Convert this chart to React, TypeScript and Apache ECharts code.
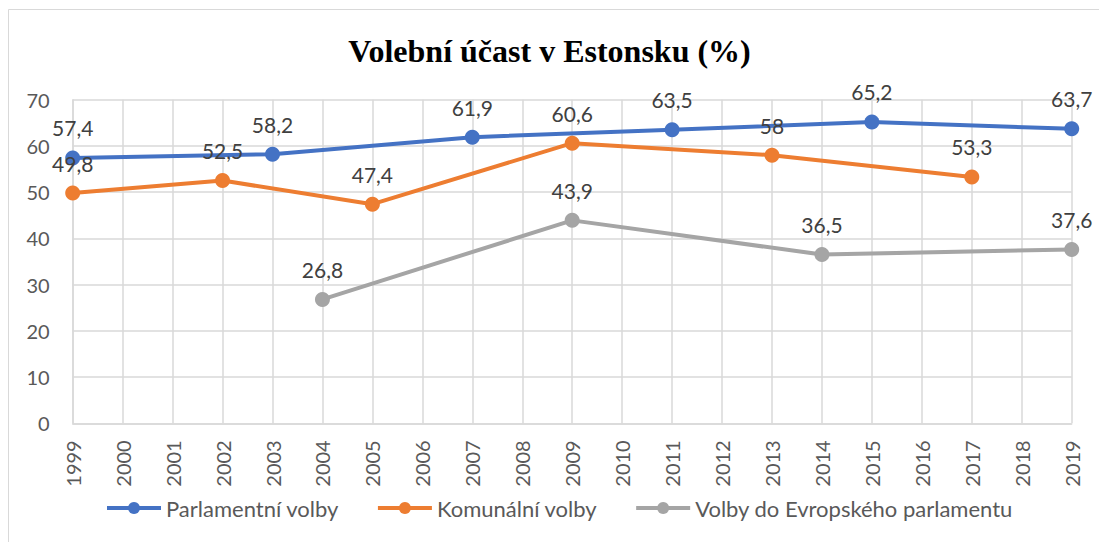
import React, { useEffect, useRef } from "react";
import * as echarts from "echarts";

const years = ["1999","2000","2001","2002","2003","2004","2005","2006","2007","2008","2009","2010","2011","2012","2013","2014","2015","2016","2017","2018","2019"];
const parlament: (number | null)[] = [57.4,null,null,null,58.2,null,null,null,61.9,null,null,null,63.5,null,null,null,65.2,null,null,null,63.7];
const komunalni: (number | null)[] = [49.8,null,null,52.5,null,null,47.4,null,null,null,60.6,null,null,null,58,null,null,null,53.3,null,null];
const evropsky: (number | null)[] = [null,null,null,null,null,26.8,null,null,null,null,43.9,null,null,null,null,36.5,null,null,null,null,37.6];
const seriesNames = ["Parlamentní volby", "Komunální volby", "Volby do Evropského parlamentu"];
const colors = ["#4472C4", "#ED7D31", "#A5A5A5"];
const titleText = "Volební účast v Estonsku (%)";

export default function App() {
  const ref = useRef<HTMLDivElement>(null);
  useEffect(() => {
    if (!ref.current) return;
    const chart = echarts.init(ref.current, undefined, { renderer: "svg" });
    const mk = (name: string, data: (number | null)[], color: string) => ({
      name,
      type: "line",
      data,
      connectNulls: true,
      symbol: "circle",
      symbolSize: 15,
      itemStyle: { color },
      lineStyle: { color, width: 4 },
      label: {
        show: true,
        position: "top",
        distance: 12,
        fontFamily: "Lato",
        fontSize: 21,
        color: "#404040",
        formatter: (p: any) => String(p.value).replace(".", ","),
      },
    });
    chart.setOption({
      animation: false,
      backgroundColor: "#ffffff",
      title: {
        text: titleText,
        left: "center",
        top: 30,
        textStyle: { fontFamily: "Liberation Serif", fontWeight: "bold", fontSize: 32, color: "#000000" },
      },
      graphic: [
        {
          type: "rect",
          shape: { x: 8.5, y: 9.5, width: 1200, height: 700 },
          style: { fill: "none", stroke: "#d9d9d9", lineWidth: 1 },
          silent: true,
        },
      ],
      legend: {
        left: 100,
        top: 492,
        itemWidth: 54,
        itemHeight: 15,
        itemGap: 37,
        textStyle: { fontFamily: "Lato", fontSize: 22, color: "#595959" },
        data: seriesNames.map((n, i) => ({ name: n, itemStyle: { color: colors[i] }, lineStyle: { width: 4, color: colors[i] } })),
      },
      grid: { left: 72.7, right: 27.3, top: 99.7, bottom: 118.7, containLabel: false },
      xAxis: {
        type: "category",
        data: years,
        boundaryGap: false,
        axisLine: { show: true, lineStyle: { color: "#d9d9d9", width: 1.5 } },
        axisTick: { show: false },
        splitLine: { show: true, lineStyle: { color: "#d9d9d9", width: 1.5 } },
        axisLabel: { rotate: 90, margin: 17, fontFamily: "Lato", fontSize: 20, color: "#595959", interval: 0 },
      },
      yAxis: {
        type: "value",
        min: 0,
        max: 70,
        interval: 10,
        axisLine: { show: true, lineStyle: { color: "#d9d9d9", width: 1.5 } },
        axisTick: { show: false },
        splitLine: { show: true, lineStyle: { color: "#d9d9d9", width: 1.5 } },
        axisLabel: { margin: 23, fontFamily: "Lato", fontSize: 20, color: "#595959" },
      },
      series: [
        mk(seriesNames[0], parlament, colors[0]),
        mk(seriesNames[1], komunalni, colors[1]),
        mk(seriesNames[2], evropsky, colors[2]),
      ],
    });
    return () => chart.dispose();
  }, []);
  return (
    <div
      ref={ref}
      style={{ position: "fixed", left: 0, top: 0, width: 1099, height: 542 }}
    />
  );
}
